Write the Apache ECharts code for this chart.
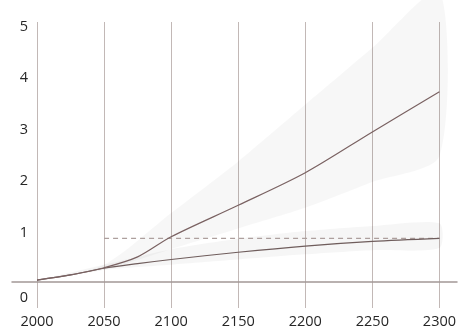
<!DOCTYPE html>
<html>
<head>
<meta charset="utf-8">
<script src="https://cdn.jsdelivr.net/npm/echarts@6/dist/echarts.min.js"></script>
<style>html,body{margin:0;padding:0;background:#fff}#c{width:459px;height:329px}</style>
</head>
<body>
<div id="c"></div>
<script>
// Data
const years = [2000, 2025, 2050, 2075, 2100, 2150, 2200, 2250, 2300];
const upperLine = [0, 0.1, 0.24, 0.45, 0.84, 1.45, 2.08, 2.87, 3.65];
const lowerLine = [0, 0.1, 0.23, 0.32, 0.40, 0.54, 0.66, 0.75, 0.81];
const bandYears = [2000, 2050, 2100, 2150, 2200, 2250, 2300];
const upperBandLow = [0, 0.2, 0.6, 1.0, 1.4, 1.9, 2.4];
const upperBandHigh = [0, 0.3, 1.3, 2.3, 3.4, 4.5, 5.6];
const lowerBandLow = [0, 0.2, 0.3, 0.4, 0.5, 0.58, 0.62];
const lowerBandHigh = [0, 0.3, 0.6, 0.8, 0.95, 1.05, 1.1];
const refYears = [2050, 2300];
const refValue = [0.81, 0.81];
const xTicks = [2000, 2050, 2100, 2150, 2200, 2250, 2300];
const yTicks = [0, 1, 2, 3, 4, 5];

const pairs = (xs, ys) => xs.map((x, i) => [x, ys[i]]);

const chart = echarts.init(document.getElementById('c'), null, {renderer: 'canvas'});
const font = '"Open Sans", sans-serif';
const txt = '#262626';
const bandSeries = (low, high, color) => ({
  type: 'custom', xAxisIndex: 0, yAxisIndex: 0, silent: true, z: 1, clip: false,
  data: [0],
  renderItem: (params, api) => {
    const pts = [];
    for (let i = 0; i < bandYears.length; i++) pts.push(api.coord([bandYears[i], high[i]]));
    for (let i = bandYears.length - 1; i >= 0; i--) pts.push(api.coord([bandYears[i], low[i]]));
    return {
      type: 'polygon', shape: {points: pts, smooth: 0.25},
      style: {fill: color, shadowBlur: 8, shadowColor: color}
    };
  }
});
chart.setOption({
  animation: false,
  backgroundColor: '#ffffff',
  grid: [
    {left: 37, right: 16, top: 22, bottom: 19},
    {left: 12, right: 2, top: 22, bottom: 19}
  ],
  xAxis: [
    {
      type: 'value', gridIndex: 0, min: 2000, max: 2300, interval: 50,
      axisLine: {show: false}, axisTick: {show: false},
      splitLine: {show: true, lineStyle: {color: '#c2b8b6', width: 1}},
      axisLabel: {color: txt, fontFamily: font, fontSize: 14.5, margin: 6,
        formatter: v => xTicks.includes(v) ? String(v) : ''}
    },
    {
      type: 'value', gridIndex: 1, min: 0, max: 1,
      axisLine: {show: true, onZero: true, lineStyle: {color: '#a39896', width: 1.5}},
      axisTick: {show: false}, axisLabel: {show: false}, splitLine: {show: false}
    }
  ],
  yAxis: [
    {
      type: 'value', gridIndex: 0, min: -0.54, max: 5,
      axisLine: {show: false}, axisTick: {show: false}, splitLine: {show: false},
      axisLabel: {
        color: txt, fontFamily: font, fontSize: 14.5, margin: 9,
        showMinLabel: false,
        formatter: v => yTicks.includes(v) ? (v === 0 ? '{z|0}' : '{a|' + v + '}') : '',
        rich: {
          z: {fontFamily: font, fontSize: 14.5, color: txt, padding: [36, 0, 0, 0]},
          a: {fontFamily: font, fontSize: 14.5, color: txt, padding: [9, 0, 0, 0]}
        }
      }
    },
    {
      type: 'value', gridIndex: 1, min: -0.54, max: 5,
      axisLine: {show: false}, axisTick: {show: false}, splitLine: {show: false}, axisLabel: {show: false}
    }
  ],
  series: [
    bandSeries(upperBandLow, upperBandHigh, 'rgba(0,0,0,0.03)'),
    bandSeries(lowerBandLow, lowerBandHigh, 'rgba(0,0,0,0.035)'),
    {type: 'line', xAxisIndex: 0, yAxisIndex: 0, data: pairs(refYears, refValue), symbol: 'none',
      lineStyle: {color: '#ad9f9d', width: 1.3, type: [5, 4]}, z: 3},
    {type: 'line', xAxisIndex: 0, yAxisIndex: 0, data: pairs(years, lowerLine), symbol: 'none', smooth: 0.3,
      lineStyle: {color: '#6f5d5c', width: 1.2}, z: 4},
    {type: 'line', xAxisIndex: 0, yAxisIndex: 0, data: pairs(years, upperLine), symbol: 'none', smooth: 0.3,
      lineStyle: {color: '#7a6262', width: 1.2}, z: 4}
  ]
});
</script>
</body>
</html>
